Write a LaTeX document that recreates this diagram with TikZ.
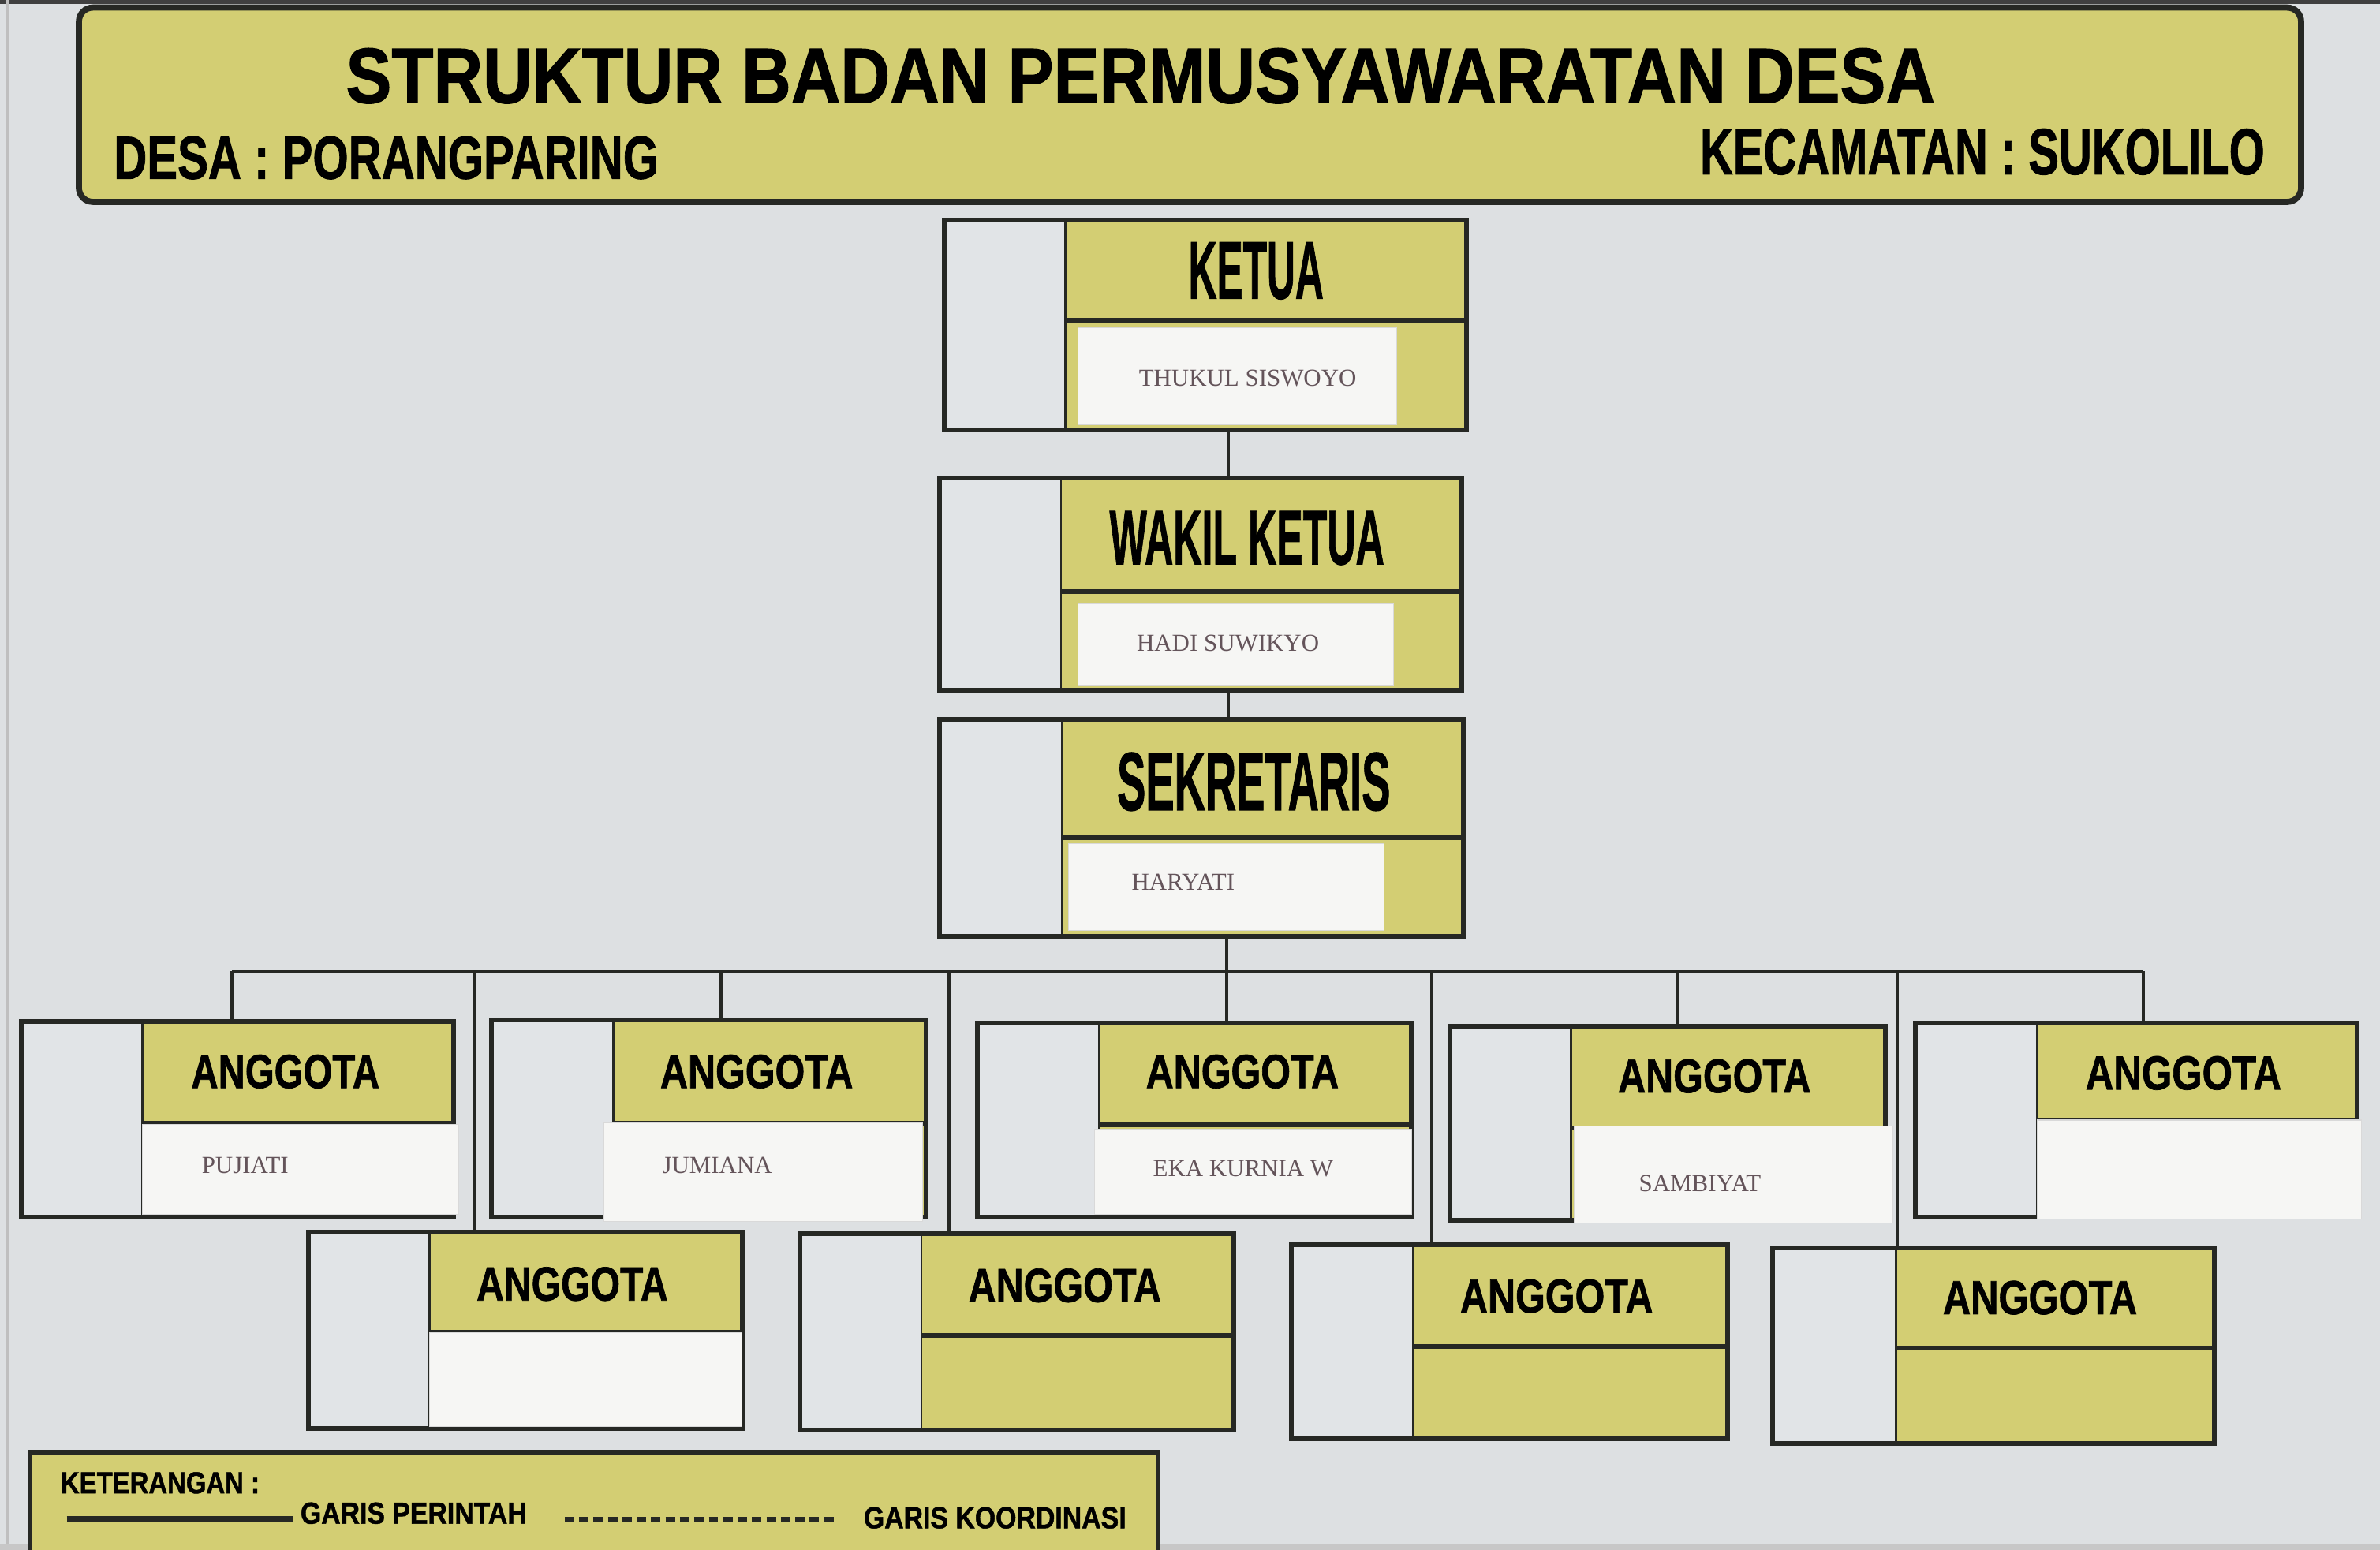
\documentclass[tikz,border=0pt]{standalone}
\usepackage{fontspec}
\usepackage{graphicx}
\usetikzlibrary{fit}
\newfontfamily\hfont{Liberation Sans}[BoldFeatures={FakeBold=1.2}]
\newfontfamily\nfont{Liberation Serif}
\newlength\un \setlength\un{0.019241cm}
\definecolor{board}{RGB}{221,224,226}
\definecolor{leftfill}{RGB}{225,228,231}
\definecolor{yel}{RGB}{211,206,115}
\definecolor{frame}{RGB}{38,40,36}
\definecolor{paper}{RGB}{246,246,244}
\definecolor{namecol}{RGB}{100,84,90}
\newcommand\hd[3]{\resizebox{#1\un}{#2\un}{\hfont\bfseries #3}}
\tikzset{
  boxframe/.style={draw=frame, line width=1.7pt, inner sep=0pt},
  divline/.style={draw=frame, line width=1.7pt},
  thinline/.style={draw=frame, line width=0.8pt},
  conn/.style={draw=frame, line width=1.1pt},
  hdr/.style={inner sep=0pt, text=black},
  nm/.style={inner sep=0pt, text=namecol, font=\nfont\fontsize{8.8}{10}\selectfont},
  paperbox/.style={fill=paper, draw=black!15, line width=0.3pt},
}
\newcommand\obox[7]{%
  \fill[leftfill] (#2,#3) rectangle (#6,#5);
  \fill[yel] (#6,#3) rectangle (#4,#5);
  \draw[thinline] (#6,#3) -- (#6,#5);
  \draw[divline] (#6,#7) -- (#4,#7);
  \node[boxframe, fit={(#2,#3) (#4,#5)}] (#1) {};
}
\begin{document}
\begin{tikzpicture}[x=0.019241cm, y=-0.019241cm]
\useasboundingbox (0,0) rectangle (1568,1021);
\fill[board] (0,0) rectangle (1568,1021);
\fill[black!75] (0,0) rectangle (1568,2.5);
\draw[black!25, line width=1pt] (5,0) -- (5,1021);
\fill[black!22] (0,1017) rectangle (1568,1021);

% title banner
\node[draw=frame, line width=2.2pt, fill=yel, rounded corners=5pt, inner sep=0pt,
      fit={(52,5) (1516,133)}] (banner) {};
\node[hdr] (title) at (751.5,50) {\hd{1047}{36}{STRUKTUR BADAN PERMUSYAWARATAN DESA}};
\node[hdr] (desa) at (254.5,104) {\hd{359}{28}{DESA : PORANGPARING}};
\node[hdr] (kec) at (1306,100) {\hd{372}{30}{KECAMATAN : SUKOLILO}};

% top three boxes
\obox{ketua}{622}{145}{966}{283}{702}{211}
\obox{wakil}{619}{315}{963}{455}{699}{390}
\obox{sek}{619}{474}{964}{617}{700}{552}
\node[hdr] (ketua-t) at (827.5,178.5) {\hd{89}{37}{KETUA}};
\node[hdr] (wakil-t) at (821.5,354.5) {\hd{181}{35}{WAKIL KETUA}};
\node[hdr] (sek-t) at (826,515) {\hd{180}{38}{SEKRETARIS}};
\fill[paperbox] (710,216) rectangle (920,280);
\fill[paperbox] (710,398) rectangle (918,452);
\fill[paperbox] (704,556) rectangle (912,613);
\node[nm] (ketua-n) at (822,249) {THUKUL SISWOYO};
\node[nm] (wakil-n) at (809,424) {HADI SUWIKYO};
\node[nm] (sek-n) at (779.5,581) {HARYATI};

% row 1
\obox{a1}{14}{673}{299}{802}{94}{740}
\obox{a2}{324}{672}{610}{802}{404}{740}
\obox{a3}{644}{674}{930}{802}{724}{741}
\obox{a4}{955}{676}{1242}{804}{1035}{743}
\obox{a5}{1262}{674}{1553}{802}{1342}{738}
\node[hdr] (a1-t) at (188,706) {\hd{124}{22}{ANGGOTA}};
\node[hdr] (a2-t) at (498.5,706) {\hd{127}{22}{ANGGOTA}};
\node[hdr] (a3-t) at (818.5,706) {\hd{127}{22}{ANGGOTA}};
\node[hdr] (a4-t) at (1129.5,709) {\hd{127}{22}{ANGGOTA}};
\node[hdr] (a5-t) at (1438.5,707) {\hd{129}{22}{ANGGOTA}};
\fill[paperbox] (94,741) rectangle (302,800);
\fill[paperbox] (398,740) rectangle (608,805);
\fill[paperbox] (721,744) rectangle (930,800);
\fill[paperbox] (1037,742) rectangle (1247,806);
\fill[paperbox] (1342,738) rectangle (1556,803);
\node[nm] (a1-n) at (161.5,768) {PUJIATI};
\node[nm] (a2-n) at (472.5,768) {JUMIANA};
\node[nm] (a3-n) at (819,770) {EKA KURNIA W};
\node[nm] (a4-n) at (1120,780) {SAMBIYAT};

% row 2
\obox{b1}{203}{812}{489}{941}{283}{878}
\obox{b2}{527}{813}{813}{942}{607}{880}
\obox{b3}{851}{820}{1138}{948}{931}{887}
\obox{b4}{1168}{822}{1459}{951}{1249}{888}
\node[hdr] (b1-t) at (377,846) {\hd{126}{22}{ANGGOTA}};
\node[hdr] (b2-t) at (701.5,847) {\hd{127}{22}{ANGGOTA}};
\node[hdr] (b3-t) at (1025.5,854) {\hd{127}{22}{ANGGOTA}};
\node[hdr] (b4-t) at (1344,855) {\hd{128}{22}{ANGGOTA}};
\fill[paperbox] (283,878) rectangle (489,940);

% connectors
\coordinate (vx) at (809,0);
\coordinate (busL) at (153,640);
\coordinate (busR) at (1412,640);
\coordinate (p2) at (475,640);
\coordinate (p3) at (808,640);
\coordinate (p4) at (1105,640);
\coordinate (q1) at (313,640);
\coordinate (q2) at (625,640);
\coordinate (q3) at (943,640);
\coordinate (q4) at (1250,640);
\draw[conn] (ketua.south -| vx) -- (wakil.north -| vx);
\draw[conn] (wakil.south -| vx) -- (sek.north -| vx);
\draw[conn] (sek.south -| p3) -- (a3.north -| p3);
\draw[conn] (busL) -- (busR);
\draw[conn] (busL) -- (a1.north -| busL);
\draw[conn] (p2) -- (a2.north -| p2);
\draw[conn] (p4) -- (a4.north -| p4);
\draw[conn] (busR) -- (a5.north -| busR);
\draw[conn] (q1) -- (b1.north -| q1);
\draw[conn] (q2) -- (b2.north -| q2);
\draw[conn] (q3) -- (b3.north -| q3);
\draw[conn] (q4) -- (b4.north -| q4);

% legend
\fill[yel] (20,957) rectangle (763,1030);
\draw[frame, line width=1.7pt] (20,1030) -- (20,957) -- (763,957) -- (763,1030);
\node[hdr] (ket) at (105.5,977) {\hd{131}{14}{KETERANGAN :}};
\coordinate (l1a) at (44,1001);
\coordinate (l1b) at (193,1001);
\draw[frame, line width=2.2pt] (l1a) -- (l1b);
\node[hdr] (perintah) at (272.5,997) {\hd{149}{14}{GARIS PERINTAH}};
\coordinate (l2a) at (372,1001);
\coordinate (l2b) at (552,1001);
\draw[frame, line width=1.8pt, dash pattern=on 3.4pt off 1.8pt] (l2a) -- (l2b);
\node[hdr] (koord) at (655.5,1000) {\hd{173}{14}{GARIS KOORDINASI}};
\end{tikzpicture}
\end{document}
